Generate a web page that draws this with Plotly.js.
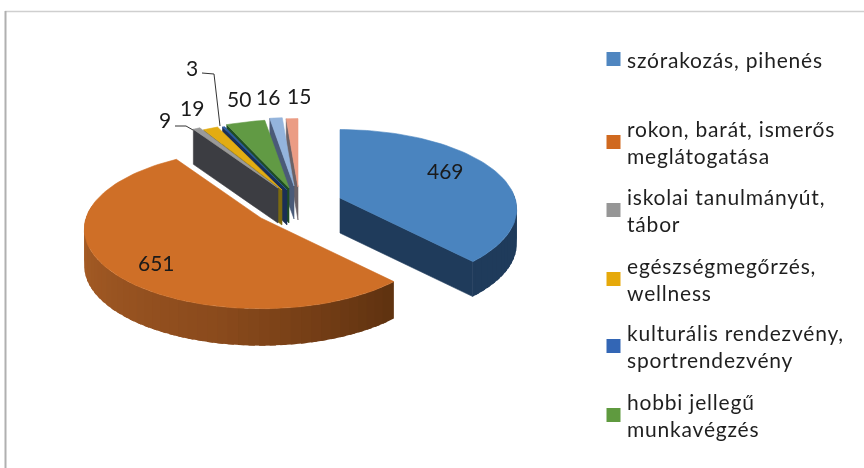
<!DOCTYPE html>
<html><head><meta charset="utf-8">
<script src="https://cdn.plot.ly/plotly-3.0.1.min.js"></script>
<style>html,body{margin:0;padding:0;background:#fff}#c{width:864px;height:468px;filter:blur(0.5px)}</style>
</head><body><div id="c"></div>
<script>
// ---- data ----
const categories = ['szórakozás, pihenés','rokon, barát, ismerős meglátogatása','iskolai tanulmányút, tábor','egészségmegőrzés, wellness','kulturális rendezvény, sportrendezvény','hobbi jellegű munkavégzés','egyéb 1','egyéb 2'];
const values = [469,651,9,19,3,50,16,15];
const valueLabels = ['469','651','9','19','3','50','16','15'];
const legendLines = [['szórakozás, pihenés'],['rokon, barát, ismerős','meglátogatása'],['iskolai tanulmányút,','tábor'],['egészségmegőrzés,','wellness'],['kulturális rendezvény,','sportrendezvény'],['hobbi jellegű','munkavégzés']];
// ---- style ----
const topColors  = ['#4a84bf','#cf6f27','#9a9a9a','#e3ac12','#2c5aa0','#619a44','#94b4dc','#eb9c84'];
const sideColors = ['#1f3b5b','#8a4a1c','#3c3d42','#7b6a10','#1b2f55','#1f4d24','#4a5a78','#6b6266'];
const legendColors = ['#4f86c0','#d0691f','#969696','#e6a90a','#3366b5','#5f9a3f'];
// ---- projection (explosion apexes of each slice, in pixels; axes map 1:1 to the page) ----
const apexX = [340,261,278,282,287,289,294,298];
const apexY = [198,218,188,190,190,188,186,187];
const depth = [35,37,35,35,35,35,33,33];
const RX = 175, RY = 78, K = 0.14;
const drawOrder = [7,6,5,4,3,2,0,1];
const labelX = [445,156,165,192,192,239,268,299];
const labelY = [170,262,119,107,67,98,96,95];
const legendY = [60,143,211,280,347,416];
const legendLineGap = 27;

const rad = d => d*Math.PI/180;
function P(i,t,z){const v=Math.cos(rad(t)),s=1/(1+K*v);
  return [apexX[i]+RX*Math.sin(rad(t))*s, apexY[i]-RY*v*s+(z?depth[i]:0)];}
const total = values.reduce((a,b)=>a+b,0);
const starts=[];let acc=0;values.forEach(v=>{starts.push(acc/total*360);acc+=v;});
const traces=[];
function poly(pts,col,name,noLine){traces.push({type:'scatter',mode:'lines',x:pts.map(p=>p[0]).concat(pts[0][0]),y:pts.map(p=>p[1]).concat(pts[0][1]),fill:'toself',fillcolor:col,line:noLine?{width:0}:{color:col,width:0.6},hoverinfo:'skip',showlegend:false,name:name});}
const mix=(a,b,f)=>{const h=c=>[1,3,5].map(j=>parseInt(c.substr(j,2),16));const A=h(a),B=h(b);return 'rgb('+A.map((x,j)=>Math.round(x+(B[j]-x)*f)).join(',')+')';};
const gradStops=[[137,'#5f3210'],[190,'#8a4a1c'],[270,'#aa5f27']];
function arcColor(i,t){
  if(i!==1) return sideColors[i];
  if(t<=190) return mix(gradStops[0][1],gradStops[1][1],Math.max(0,(t-137)/53));
  return mix(gradStops[1][1],gradStops[2][1],Math.min(1,(t-190)/80));
}
drawOrder.forEach(i=>{
  const a0=starts[i],a1=a0+values[i]/total*360,A=[apexX[i],apexY[i]],Ad=[apexX[i],apexY[i]+depth[i]];
  if(Math.sin(rad(a1))>0.001) poly([A,P(i,a1,0),P(i,a1,1),Ad],sideColors[i],categories[i]);
  if(Math.sin(rad(a0))<-0.001) poly([A,P(i,a0,0),P(i,a0,1),Ad],sideColors[i],categories[i]);
  const f0=Math.max(a0,85),f1=Math.min(a1,280);
  if(f1>f0){const n=Math.ceil((f1-f0)/3),st=(f1-f0)/n;
    for(let k=n-1;k>=0;k--){const t0=f0+st*k,t1=Math.min(f1,t0+st*1.6);
      poly([P(i,t0,0),P(i,t1,0),P(i,t1,1),P(i,t0,1)],arcColor(i,t0+st/2),categories[i],true);}}
  const top=[A];const m=Math.max(2,Math.ceil((a1-a0)/2));
  for(let k=0;k<=m;k++) top.push(P(i,a0+(a1-a0)*k/m,0));
  poly(top,topColors[i],categories[i]);
});
// legend squares
traces.push({type:'scatter',mode:'markers',x:legendColors.map(()=>613.5),y:legendY.map(y=>y-1),marker:{symbol:'square',size:14,color:legendColors},hoverinfo:'skip',showlegend:false});
// leader lines for the small labels
traces.push({type:'scatter',mode:'lines',x:[202,214,220],y:[73,74,126],line:{color:'#333',width:1},hoverinfo:'skip',showlegend:false});
traces.push({type:'scatter',mode:'lines',x:[175,186,193],y:[126,126,130],line:{color:'#333',width:1},hoverinfo:'skip',showlegend:false});

const ann=[];
valueLabels.forEach((t,i)=>ann.push({x:labelX[i],y:labelY[i],text:t,showarrow:false,xanchor:'center',yanchor:'middle',font:{family:'Lato',size:21,color:'#1a1a1a'}}));
legendLines.forEach((ls,i)=>ls.forEach((t,j)=>{
  const y=legendY[i]+(j-(ls.length-1)/2)*legendLineGap;
  ann.push({x:625,y:y-1,text:t,showarrow:false,xanchor:'left',yanchor:'middle',font:{family:'Lato',size:21,color:'#1f1f1f'}});
}));
const layout={width:864,height:468,margin:{l:0,r:0,t:0,b:0},paper_bgcolor:'#fff',plot_bgcolor:'#fff',showlegend:false,
  xaxis:{range:[0,864],visible:false,fixedrange:true},yaxis:{range:[468,0],visible:false,fixedrange:true},
  annotations:ann,
  shapes:[
   {type:'line',xref:'x',yref:'y',x0:5,x1:864,y0:11.5,y1:11.5,line:{color:'#cfcfcf',width:1.5},layer:'below'},
   {type:'line',xref:'x',yref:'y',x0:5.5,x1:5.5,y0:11,y1:468,line:{color:'#b0b0b0',width:2},layer:'below'}
  ]};
Plotly.newPlot('c',traces,layout,{displayModeBar:false,staticPlot:true}).then(()=>{
  // widen the legend lettering and pin each line to its left edge
  document.querySelectorAll('.annotation-text').forEach(el=>{
    if(el.textContent.length>3){
      const left=el.getBBox().x;
      el.setAttribute('text-anchor','start');
      el.setAttribute('x',left);
      el.style.letterSpacing='0.8px';
    }
  });
});
</script></body></html>
